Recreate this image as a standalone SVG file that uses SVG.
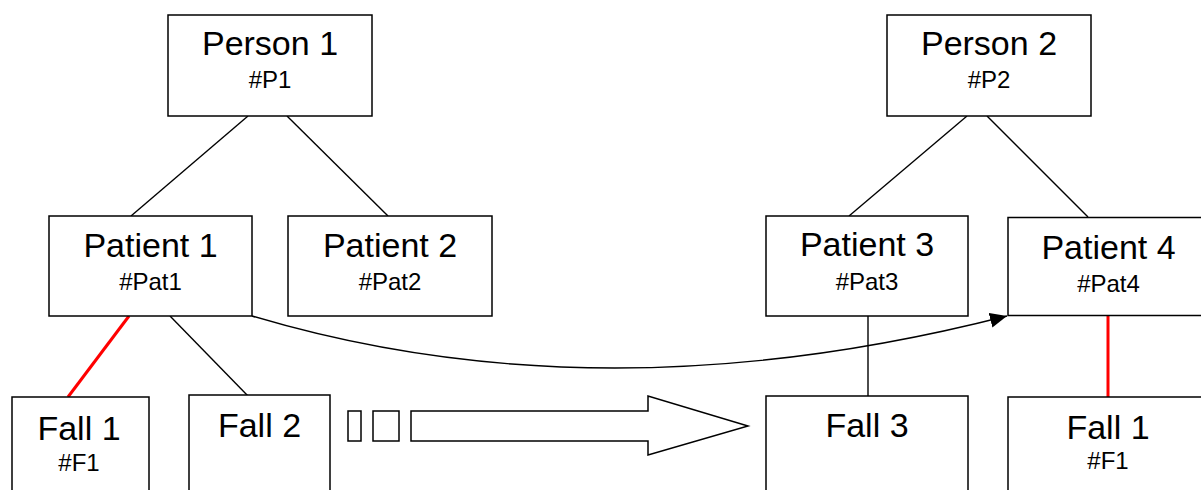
<svg xmlns="http://www.w3.org/2000/svg" width="1201" height="490" viewBox="0 0 1201 490">
<style>
.box{fill:#fff;stroke:#000;stroke-width:1.5}
.t1{font-family:"Liberation Sans",Arial,sans-serif;font-size:34px;text-anchor:middle;fill:#000}
.t2{font-family:"Liberation Sans",Arial,sans-serif;font-size:24px;text-anchor:middle;fill:#000}
.ln{stroke:#000;stroke-width:1.4;fill:none}
.red{stroke:#f00;stroke-width:3;fill:none}
</style>
<defs>
<marker id="ah" markerUnits="userSpaceOnUse" markerWidth="20" markerHeight="16" refX="17" refY="7.5" orient="auto">
<path d="M0,0 L17,7.5 L0,15 Z" fill="#000"/>
</marker>
</defs>
<rect width="1201" height="490" fill="#fff"/>
<g id="connectors">
<line class="ln" x1="248" y1="116" x2="131" y2="216"/>
<line class="ln" x1="287" y1="116" x2="388" y2="216"/>
<line class="ln" x1="967" y1="116" x2="849" y2="216"/>
<line class="ln" x1="987" y1="116" x2="1088" y2="217"/>
<line class="red" x1="129" y1="316" x2="68" y2="397"/>
<line class="ln" x1="170" y1="316" x2="248" y2="396"/>
<line class="ln" x1="868" y1="316" x2="868" y2="396"/>
<line class="red" x1="1108" y1="316" x2="1108" y2="397"/>
<path class="ln" d="M252,316 Q600,420 1007,316" marker-end="url(#ah)"/>
</g>
<g id="person1"><rect class="box" x="168" y="15" width="204" height="101"/><text class="t1" x="270" y="55">Person 1</text><text class="t2" x="270" y="88">#P1</text></g>
<g id="person2"><rect class="box" x="887" y="15" width="204" height="101"/><text class="t1" x="989" y="55">Person 2</text><text class="t2" x="989" y="88">#P2</text></g>
<g id="patient1"><rect class="box" x="49" y="216" width="203" height="100"/><text class="t1" x="150.5" y="257">Patient 1</text><text class="t2" x="150.5" y="290">#Pat1</text></g>
<g id="patient2"><rect class="box" x="288" y="216" width="204" height="100"/><text class="t1" x="390" y="257">Patient 2</text><text class="t2" x="390" y="290">#Pat2</text></g>
<g id="patient3"><rect class="box" x="766" y="216" width="202" height="100"/><text class="t1" x="867" y="256">Patient 3</text><text class="t2" x="867" y="290">#Pat3</text></g>
<g id="patient4"><rect class="box" x="1008" y="217.5" width="202" height="98"/><text class="t1" x="1108.5" y="259">Patient 4</text><text class="t2" x="1108.5" y="292">#Pat4</text></g>
<g id="fall1a"><rect class="box" x="12" y="397" width="137" height="110"/><text class="t1" x="79" y="440">Fall 1</text><text class="t2" x="79" y="471">#F1</text></g>
<g id="fall2"><rect class="box" x="189" y="395" width="141" height="110"/><text class="t1" x="259.5" y="437">Fall 2</text></g>
<g id="fall3"><rect class="box" x="766" y="396" width="202" height="110"/><text class="t1" x="867" y="437">Fall 3</text></g>
<g id="fall1b"><rect class="box" x="1008" y="397" width="202" height="110"/><text class="t1" x="1108" y="439">Fall 1</text><text class="t2" x="1108" y="469">#F1</text></g>
<g id="blockarrow">
<rect class="box" x="348" y="411" width="13" height="30"/>
<rect class="box" x="373" y="411" width="26" height="30"/>
<path class="box" d="M411,411 L648,411 L648,396 L748,426 L648,455 L648,441 L411,441 Z"/>
</g>
</svg>
